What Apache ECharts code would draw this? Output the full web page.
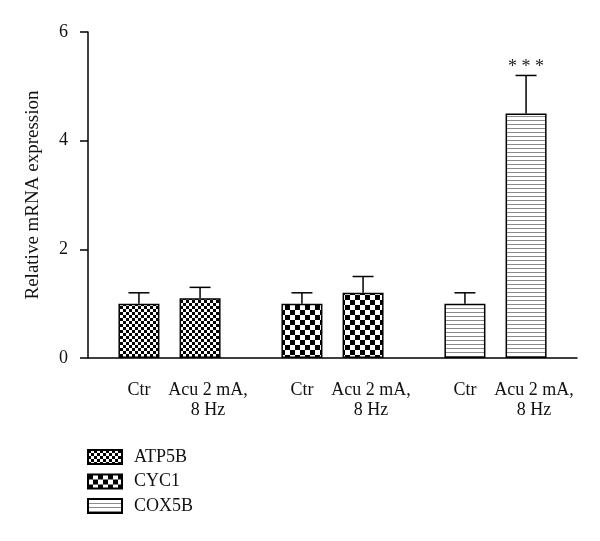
<!DOCTYPE html>
<html>
<head>
<meta charset="utf-8">
<script src="https://cdn.jsdelivr.net/npm/echarts@6/dist/echarts.min.js"></script>
<style>html,body{margin:0;padding:0;background:#fff}#c{width:600px;height:541px}</style>
</head>
<body>
<div id="c"></div>
<script>
// ---- data ----
var genes = ['ATP5B', 'CYC1', 'COX5B'];
var conditions = ['Ctr', 'Acu 2 mA,\n8 Hz'];
var atp5bMean = [1.0, 1.1];
var atp5bErr = [0.2, 0.2];
var cyc1Mean = [1.0, 1.2];
var cyc1Err = [0.2, 0.3];
var cox5bMean = [1.0, 4.5];
var cox5bErr = [0.2, 0.7];
var cox5bSig = ['', '* * *'];
var yTicks = [0, 2, 4, 6];

var means = [atp5bMean, cyc1Mean, cox5bMean];
var errs = [atp5bErr, cyc1Err, cox5bErr];
var sigs = [['', ''], ['', ''], cox5bSig];

// slot layout on a category axis (24 slots; pairs with gaps)
var NSLOT = 24;
var slotOf = function (g, c) { return 2 + g * 8 + c * 3; };
var slots = [];
var slotLabel = [];
for (var i = 0; i < NSLOT; i++) { slots.push(String(i)); slotLabel.push(''); }
var isBarSlot = {};
genes.forEach(function (g, gi) {
  conditions.forEach(function (c, ci) {
    var s = slotOf(gi, ci);
    slotLabel[s] = c;
    isBarSlot[s] = true;
  });
});

function makePattern(kind) {
  var cv = document.createElement('canvas');
  var ctx;
  if (kind === 0) {
    cv.width = 6; cv.height = 6; ctx = cv.getContext('2d');
    ctx.fillStyle = '#fff'; ctx.fillRect(0, 0, 6, 6);
    ctx.fillStyle = '#000'; ctx.fillRect(0, 0, 3, 3); ctx.fillRect(3, 3, 3, 3);
  } else if (kind === 1) {
    cv.width = 10; cv.height = 10; ctx = cv.getContext('2d');
    ctx.fillStyle = '#fff'; ctx.fillRect(0, 0, 10, 10);
    ctx.fillStyle = '#000'; ctx.fillRect(0, 0, 5, 5); ctx.fillRect(5, 5, 5, 5);
  } else {
    cv.width = 4; cv.height = 4; ctx = cv.getContext('2d');
    ctx.fillStyle = '#fff'; ctx.fillRect(0, 0, 4, 4);
    ctx.fillStyle = '#8a8a8a'; ctx.fillRect(0, 0, 4, 1);
  }
  return { image: cv, repeat: 'repeat' };
}

var FONT = '"Liberation Serif", "Times New Roman", serif';

var series = genes.map(function (g, gi) {
  var d = [];
  for (var i = 0; i < NSLOT; i++) d.push('-');
  conditions.forEach(function (c, ci) { d[slotOf(gi, ci)] = means[gi][ci]; });
  return {
    name: g, type: 'bar', data: d, barWidth: 41, barGap: '-100%',
    itemStyle: { color: makePattern(gi), borderColor: '#000', borderWidth: 1.5 },
    emphasis: { disabled: true }, animation: false
  };
});

var errData = [];
genes.forEach(function (g, gi) {
  conditions.forEach(function (c, ci) {
    errData.push([slotOf(gi, ci), means[gi][ci], errs[gi][ci], sigs[gi][ci]]);
  });
});

series.push({
  type: 'custom', name: 'err', data: errData, z: 5, animation: false,
  renderItem: function (params, api) {
    var x = api.value(0), m = api.value(1), e = api.value(2);
    var s = errData[params.dataIndex][3];
    var p0 = api.coord([x, m]);
    var p1 = api.coord([x, m + e]);
    var st = { stroke: '#000', lineWidth: 1.5 };
    var children = [
      { type: 'line', shape: { x1: p0[0], y1: p0[1], x2: p1[0], y2: p1[1] }, style: st },
      { type: 'line', shape: { x1: p1[0] - 10.5, y1: p1[1], x2: p1[0] + 10.5, y2: p1[1] }, style: st }
    ];
    if (s) {
      children.push({ type: 'text', style: { text: s, x: p1[0], y: p1[1] + 1, align: 'center', verticalAlign: 'bottom', font: '18px ' + FONT, fill: '#222' } });
    }
    return { type: 'group', children: children };
  }
});

var chart = echarts.init(document.getElementById('c'), null, { renderer: 'canvas' });
chart.setOption({
  backgroundColor: '#fff',
  animation: false,
  grid: { left: 88, right: 23, top: 32, bottom: 183, containLabel: false },
  legend: {
    data: genes, orient: 'vertical', left: 82, top: 443, padding: [5, 5, 5, 5],
    itemWidth: 34, itemHeight: 14, itemGap: 6.5, icon: 'rect',
    textStyle: { fontFamily: FONT, fontSize: 18, color: '#111', padding: [0, 0, 0, 7] },
    selectedMode: false
  },
  xAxis: {
    type: 'category', data: slots,
    axisLine: { lineStyle: { color: '#000', width: 1.5 } },
    axisTick: { alignWithLabel: true, length: 8, lineStyle: { color: '#000', width: 1.5 },
      interval: function (idx) { return !!isBarSlot[idx]; } },
    axisLabel: {
      interval: function (idx) { return !!isBarSlot[idx]; },
      formatter: function (v, idx) {
        var t = slotLabel[+v];
        return t.indexOf('\n') >= 0 ? '{a|' + t.split('\n').join('}\n{a|') + '}' : t;
      },
      rich: { a: { fontFamily: FONT, fontSize: 18, color: '#111', lineHeight: 20, padding: [0, 0, 0, 16] } },
      fontFamily: FONT, fontSize: 18, color: '#111', lineHeight: 20, margin: 22
    },
    splitLine: { show: false }
  },
  yAxis: {
    type: 'value', min: 0, max: 6, interval: 2,
    name: 'Relative mRNA expression', nameLocation: 'middle', nameGap: 45, nameRotate: 90,
    nameTextStyle: { fontFamily: FONT, fontSize: 19, color: '#111' },
    axisLine: { show: true, lineStyle: { color: '#000', width: 1.5 } },
    axisTick: { show: true, length: 8, lineStyle: { color: '#000', width: 1.5 } },
    axisLabel: { fontFamily: FONT, fontSize: 18, color: '#111', margin: 20,
      formatter: function (v) { return yTicks.indexOf(v) >= 0 ? String(v) : ''; } },
    splitLine: { show: false }
  },
  series: series
});
</script>
</body>
</html>
